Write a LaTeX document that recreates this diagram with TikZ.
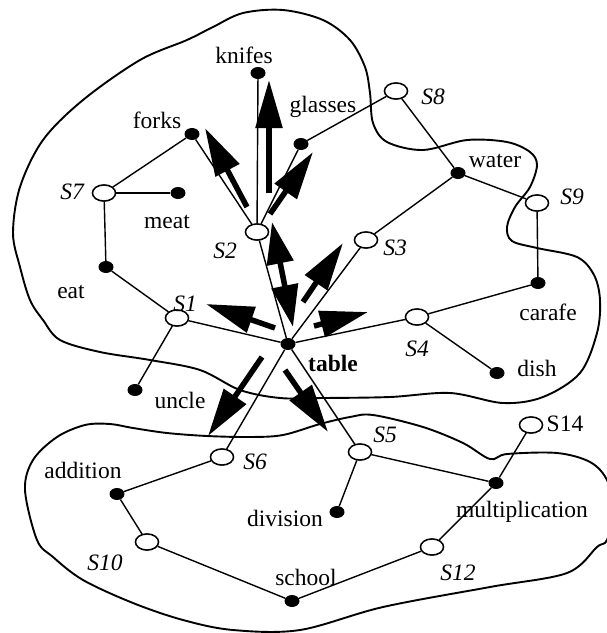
\documentclass[tikz,border=0pt]{standalone}
\usepackage{fontspec}
\setmainfont{Liberation Serif}
\usetikzlibrary{shapes.geometric,arrows.meta}

\begin{document}
\begin{tikzpicture}[x=1pt,y=-1pt,
  sense/.style={ellipse,draw,line width=1.4pt,fill=white,minimum width=23pt,minimum height=16pt,inner sep=0pt},
  term/.style={ellipse,fill=black,minimum width=15pt,minimum height=12pt,inner sep=0pt},
  lbl/.style={font=\fontsize{23.5}{26}\selectfont,inner sep=0pt},
  slbl/.style={font=\fontsize{23.5}{26}\selectfont\itshape,inner sep=0pt},
  link/.style={line width=1.4pt},
  blob/.style={line width=1.9pt},
  flow/.style={line width=5.5pt,-{Triangle[length=48pt,width=26pt]}},
  bothflow/.style={line width=5.5pt,{Triangle[length=42pt,width=26pt]}-{Triangle[length=42pt,width=26pt]}},
]
\useasboundingbox (0,0) rectangle (607,633);

% domain outlines
\draw[blob] plot[smooth cycle, tension=0.55] coordinates {
  (283,10) (323,20) (350,40) (365,67) (370,93) (373,123) (387,142) (423,150)
  (467,140) (507,142) (530,152) (537,165) (530,187) (515,207) (507,227) (512,241)
  (537,248) (577,257) (594,275) (600,300) (597,333) (580,373) (543,397) (503,403)
  (450,393) (390,397) (323,398) (280,398) (240,390) (200,370) (150,360) (100,352)
  (60,340) (43,320) (30,300) (20,267) (13,233) (20,187) (43,140) (83,100)
  (140,60) (187,40) (213,27) (243,13)};
\draw[blob] plot[smooth cycle, tension=0.55] coordinates {
  (110,424) (133,428) (167,433) (207,436) (250,437) (283,435) (320,424) (350,417)
  (373,415) (423,427) (463,443) (490,459) (507,454) (557,453) (590,462) (607,480)
  (614,510) (607,540) (597,547) (567,573) (490,587) (383,607) (300,630) (233,630)
  (183,620) (133,603) (83,580) (53,557) (37,540) (25,490) (33,460) (57,437) (85,425)};

% word nodes
\node[term] (knifes) at (258,73) {};
\node[term] (forks) at (192,134) {};
\node[term] (glasses) at (301,144) {};
\node[term] (meat) at (178,193) {};
\node[term] (eat) at (106,267) {};
\node[term] (uncle) at (135,390) {};
\node[term] (table) at (288,344) {};
\node[term] (water) at (458,173) {};
\node[term] (carafe) at (538,283) {};
\node[term] (dish) at (497,373) {};
\node[term] (mult) at (496,483) {};
\node[term] (division) at (337,512) {};
\node[term] (school) at (292,601) {};
\node[term] (addition) at (117,494) {};

% sense nodes
\node[sense] (s1) at (177,318) {};
\node[sense] (s2) at (257,232) {};
\node[sense] (s3) at (366,240) {};
\node[sense] (s4) at (417,317) {};
\node[sense] (s5) at (360,452) {};
\node[sense] (s6) at (222,457) {};
\node[sense] (s7) at (104,193) {};
\node[sense] (s8) at (396,91) {};
\node[sense] (s9) at (537,203) {};
\node[sense] (s10) at (147,542) {};
\node[sense] (s12) at (432,547) {};
\node[sense] (s14) at (531,425) {};

% links between words and senses
\draw[link] (s7) -- (forks);
\draw[link] (s7) -- (meat);
\draw[link] (s7) -- (eat);
\draw[link] (eat) -- (s1);
\draw[link] (s1) -- (uncle);
\draw[link] (s1) -- (table);
\draw[link] (s2) -- (forks);
\draw[link] (s2) -- (knifes);
\draw[link] (s2) -- (glasses);
\draw[link] (s2) -- (table);
\draw[link] (glasses) -- (s8);
\draw[link] (s8) -- (water);
\draw[link] (water) -- (s3);
\draw[link] (water) -- (s9);
\draw[link] (s9) -- (carafe);
\draw[link] (carafe) -- (s4);
\draw[link] (s3) -- (table);
\draw[link] (s4) -- (table);
\draw[link] (s4) -- (dish);
\draw[link] (table) -- (s6);
\draw[link] (table) -- (s5);
\draw[link] (s6) -- (addition);
\draw[link] (addition) -- (s10);
\draw[link] (s10) -- (school);
\draw[link] (school) -- (s12);
\draw[link] (s12) -- (mult);
\draw[link] (mult) -- (s5);
\draw[link] (mult) -- (s14);
\draw[link] (s5) -- (division);

% spreading activation arrows
\coordinate (f1a) at (247,207); \coordinate (f1b) at (205,128);
\coordinate (f2a) at (269,193); \coordinate (f2b) at (269,80);
\coordinate (f3a) at (270,214); \coordinate (f3b) at (313,152);
\coordinate (f4a) at (272,222); \coordinate (f4b) at (293,327);
\coordinate (f5a) at (303,302); \coordinate (f5b) at (343,243);
\coordinate (f6a) at (275,328); \coordinate (f6b) at (206,304);
\coordinate (f7a) at (314,326); \coordinate (f7b) at (368,312);
\coordinate (f8a) at (262,357); \coordinate (f8b) at (208,436);
\coordinate (f9a) at (285,370); \coordinate (f9b) at (328,432);
\draw[flow] (f1a) -- (f1b);
\draw[flow] (f2a) -- (f2b);
\draw[flow] (f3a) -- (f3b);
\draw[bothflow] (f4a) -- (f4b);
\draw[flow] (f5a) -- (f5b);
\draw[flow] (f6a) -- (f6b);
\draw[flow] (f7a) -- (f7b);
\draw[flow] (f8a) -- (f8b);
\draw[flow] (f9a) -- (f9b);

% redraw sense nodes above the arrows
\foreach \n in {s1,s2,s3,s4,s5,s6,s7,s8,s9,s10,s12,s14}
  \node[sense] at (\n) {};

% labels
\node[lbl] (lknifes) at (244,55) {knifes};
\node[lbl] (lforks) at (157,120) {forks};
\node[lbl] (lglasses) at (323,107) {glasses};
\node[lbl] (lmeat) at (167,222) {meat};
\node[lbl] (leat) at (71,292) {eat};
\node[lbl] (luncle) at (180,400) {uncle};
\node[lbl,font=\fontsize{23.5}{26}\selectfont\bfseries] (ltable) at (333,363) {table};
\node[lbl] (lwater) at (495,161) {water};
\node[lbl] (lcarafe) at (548,312) {carafe};
\node[lbl] (ldish) at (537,368) {dish};
\node[lbl] (lmult) at (522,512) {multiplication};
\node[lbl] (ldivision) at (285,518) {division};
\node[lbl] (lschool) at (306,577) {school};
\node[lbl] (laddition) at (83,470) {addition};
\node[slbl] (ls1) at (185,304) {S1};
\node[slbl] (ls2) at (225,251) {S2};
\node[slbl] (ls3) at (395,248) {S3};
\node[slbl] (ls4) at (417,349) {S4};
\node[slbl] (ls5) at (385,435) {S5};
\node[slbl] (ls6) at (255,462) {S6};
\node[slbl] (ls7) at (72,192) {S7};
\node[slbl] (ls8) at (433,97) {S8};
\node[slbl] (ls9) at (572,197) {S9};
\node[slbl] (ls10) at (105,563) {S10};
\node[slbl] (ls12) at (458,573) {S12};
\node[lbl] (ls14) at (565,424) {S14};
\end{tikzpicture}
\end{document}
